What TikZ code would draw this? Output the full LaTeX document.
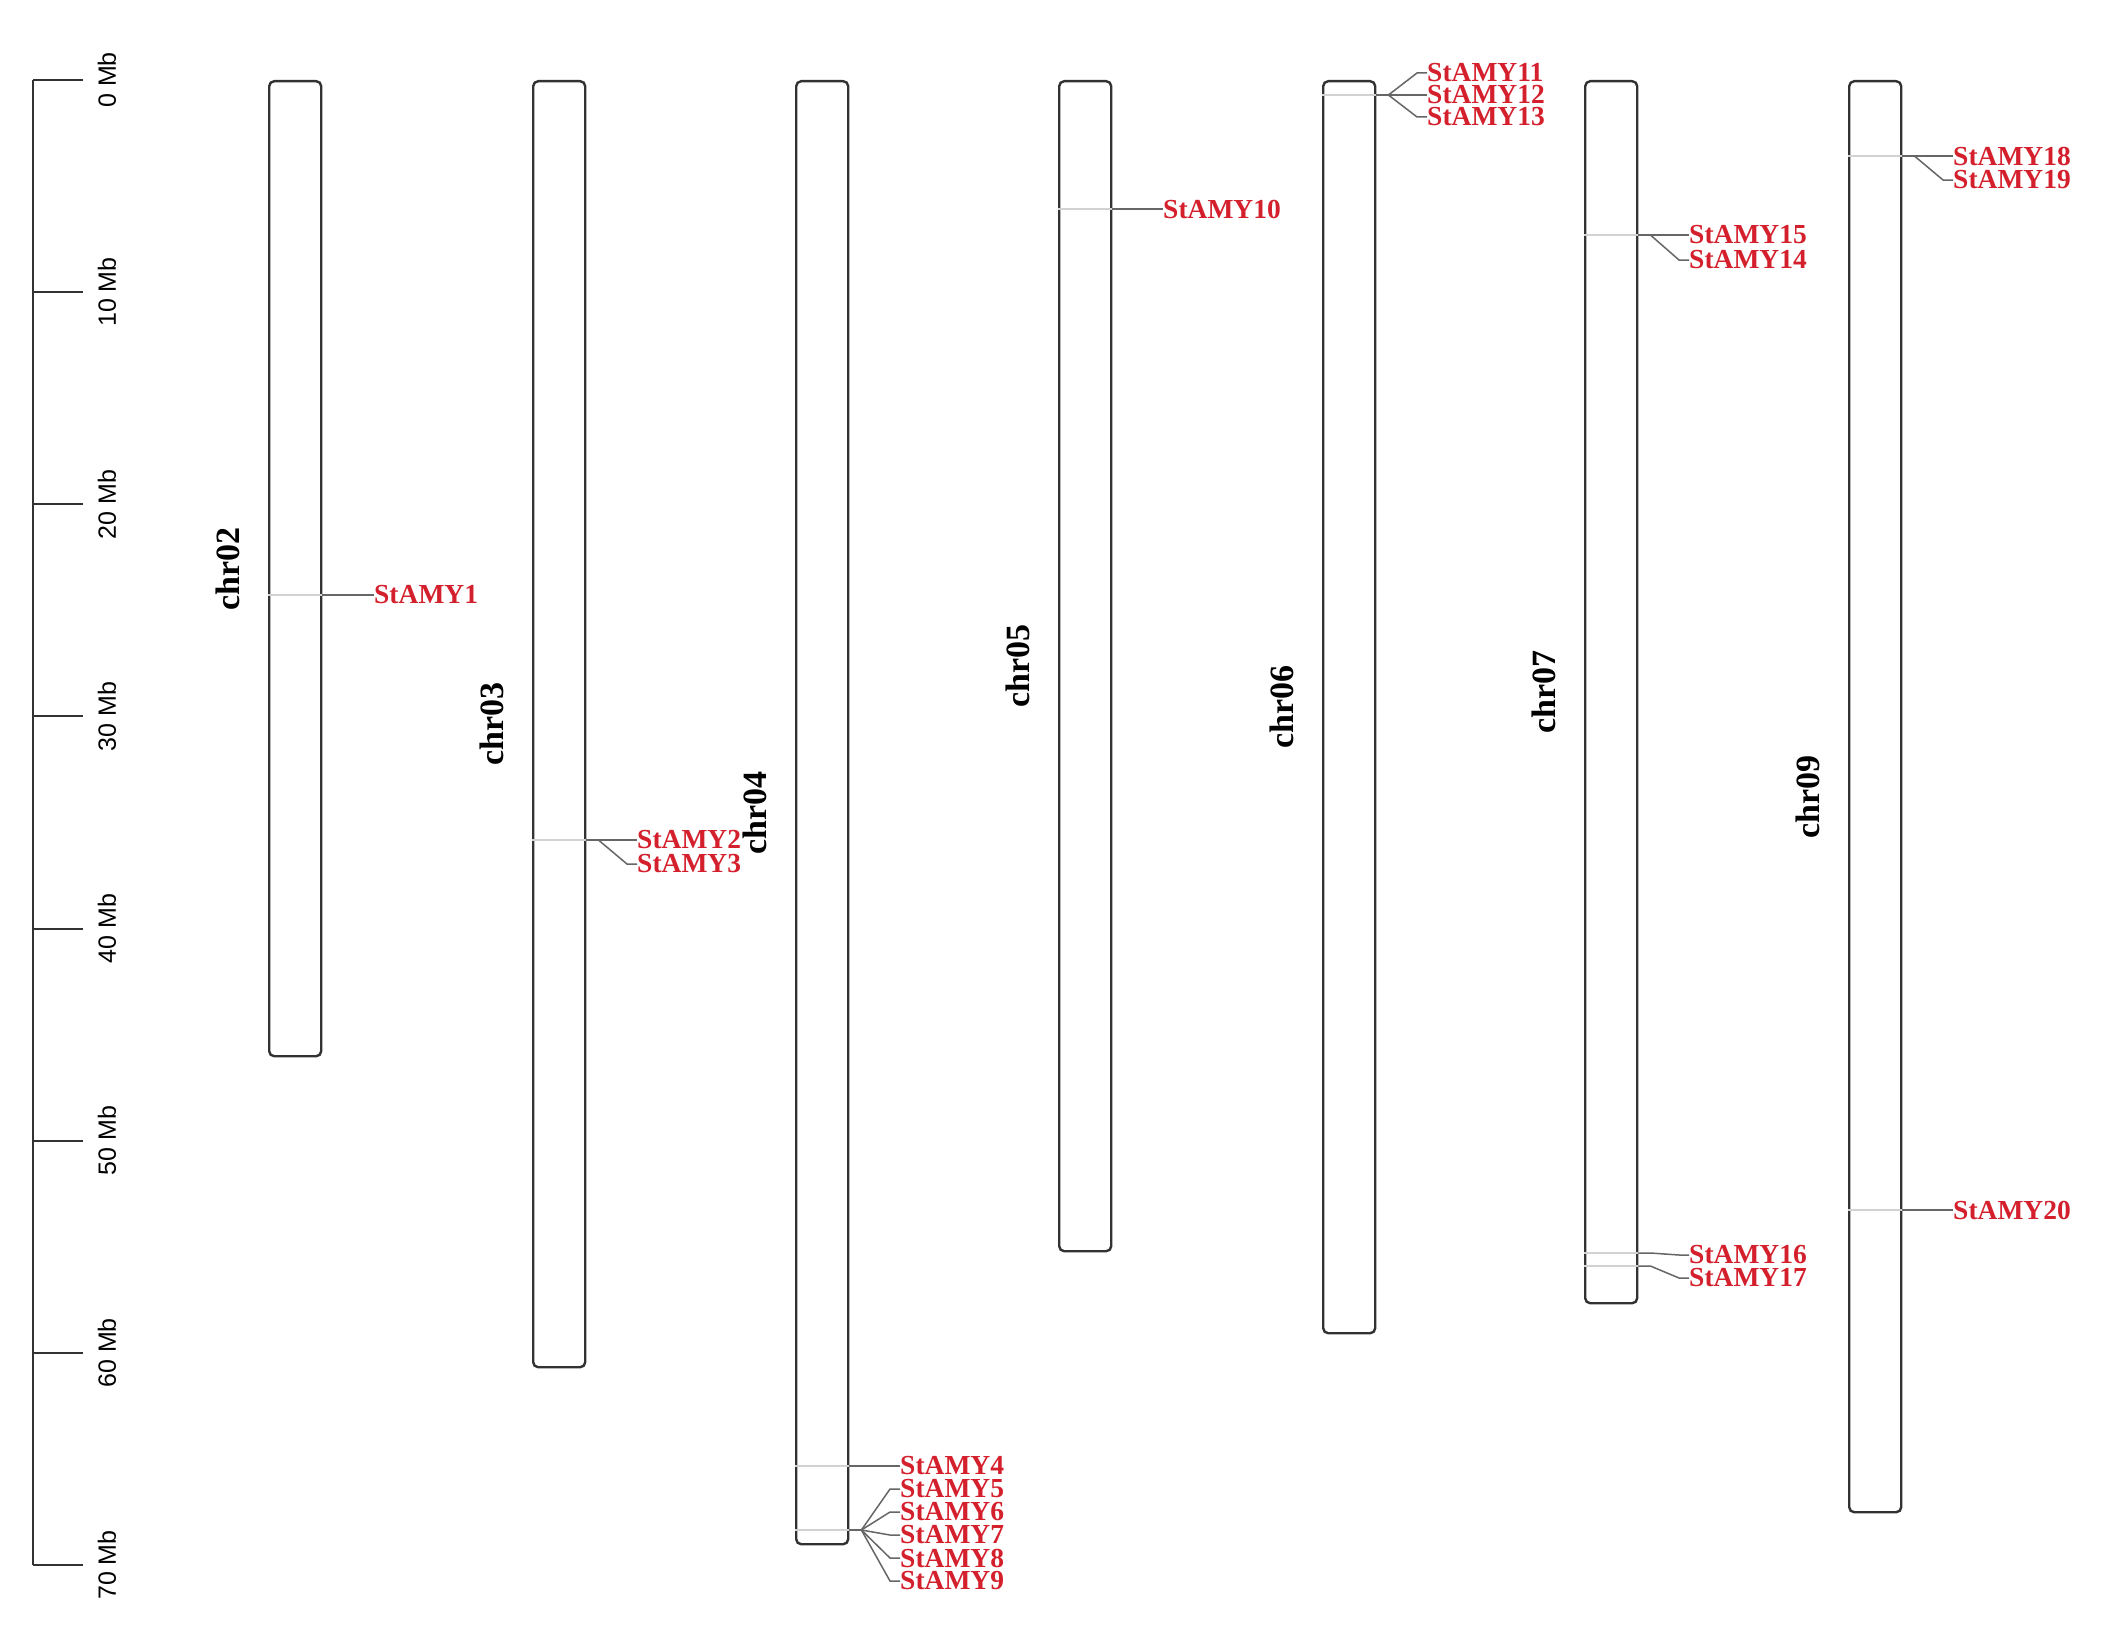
\documentclass[tikz,border=0pt]{standalone}
\usepackage{fontspec}
\setmainfont{Liberation Serif}
\newfontfamily\axisfont{Liberation Sans}
\definecolor{genered}{RGB}{212,32,44}
\definecolor{outline}{RGB}{50,50,50}
\begin{document}
\begin{tikzpicture}[x=1pt,y=-1pt,
  chrom/.style={draw=outline, line width=2.4pt, rounded corners=5pt, minimum width=52pt, inner sep=0pt, anchor=north west},
  chrlab/.style={font=\fontsize{34}{34}\selectfont\bfseries, rotate=90, inner sep=0pt},
  gene/.style={font=\fontsize{27.5}{27.5}\selectfont\bfseries, text=genered, anchor=west, inner sep=0pt},
  conn/.style={draw=gray!80!black, line width=1.5pt},
  band/.style={draw=gray!35, line width=1.2pt},
  axisline/.style={draw=outline, line width=2pt},
  ticklab/.style={font=\axisfont\fontsize{25}{25}\selectfont, rotate=90, inner sep=0pt}]
\useasboundingbox (0,0) rectangle (2116,1643);

% scale axis
\draw[axisline] (33,80) -- (33,1565);
\foreach \k/\t in {0/0,1/10,2/20,3/30,4/40,5/50,6/60,7/70}{
  \pgfmathsetmacro{\yy}{80+212.14*\k}
  \draw[axisline] (33,\yy) -- (83,\yy);
  \node[ticklab] (t\k) at (107,\yy) {\t\ Mb};
}

% chromosomes
\node[chrom, minimum height=975pt]  (c02) at (268,80) {};
\node[chrom, minimum height=1286pt] (c03) at (532,80) {};
\node[chrom, minimum height=1463pt] (c04) at (795,80) {};
\node[chrom, minimum height=1170pt] (c05) at (1058,80) {};
\node[chrom, minimum height=1252pt] (c06) at (1322,80) {};
\node[chrom, minimum height=1222pt] (c07) at (1584,80) {};
\node[chrom, minimum height=1431pt] (c09) at (1848,80) {};

% chromosome labels
\node[chrlab] (l02) at ([xshift=-40pt]c02.west) {chr02};
\node[chrlab] (l03) at ([xshift=-40pt]c03.west) {chr03};
\node[chrlab] (l04) at ([xshift=-40pt]c04.west) {chr04};
\node[chrlab] (l05) at ([xshift=-40pt]c05.west) {chr05};
\node[chrlab] (l06) at ([xshift=-40pt]c06.west) {chr06};
\node[chrlab] (l07) at ([xshift=-40pt]c07.west) {chr07};
\node[chrlab] (l09) at ([xshift=-40pt]c09.west) {chr09};

% gene positions on chromosomes (right edge) and bands
\foreach \c/\n/\y in {c02/p1/595, c03/p2/840, c04/p4/1466, c04/p5/1530, c05/p10/209, c06/p11/95,
                      c07/p15/235, c07/p16/1253, c07/p17/1266, c09/p18/156, c09/p20/1210}{
  \coordinate (\n) at (\c.east |- 0,\y);
  \coordinate (\n w) at (\c.west |- 0,\y);
  \draw[band] (\n w) -- (\n);
}

% gene labels
\node[gene] (a1)  at (374,595)  {StAMY1};
\node[gene] (a2)  at (637,840)  {StAMY2};
\node[gene] (a3)  at (637,864)  {StAMY3};
\node[gene] (a4)  at (900,1466) {StAMY4};
\node[gene] (a5)  at (900,1489) {StAMY5};
\node[gene] (a6)  at (900,1512) {StAMY6};
\node[gene] (a7)  at (900,1535) {StAMY7};
\node[gene] (a8)  at (900,1558) {StAMY8};
\node[gene] (a9)  at (900,1581) {StAMY9};
\node[gene] (a10) at (1163,209) {StAMY10};
\node[gene] (a11) at (1427,73)  {StAMY11};
\node[gene] (a12) at (1427,95)  {StAMY12};
\node[gene] (a13) at (1427,117) {StAMY13};
\node[gene] (a15) at (1689,235) {StAMY15};
\node[gene] (a14) at (1689,260) {StAMY14};
\node[gene] (a16) at (1689,1255) {StAMY16};
\node[gene] (a17) at (1689,1278) {StAMY17};
\node[gene] (a18) at (1953,156) {StAMY18};
\node[gene] (a19) at (1953,180) {StAMY19};
\node[gene] (a20) at (1953,1210) {StAMY20};

% connectors
\foreach \p/\a in {p1/a1, p2/a2, p2/a3, p4/a4, p5/a5, p5/a6, p5/a7, p5/a8, p5/a9, p10/a10,
                   p11/a11, p11/a12, p11/a13, p15/a15, p15/a14, p16/a16, p17/a17,
                   p18/a18, p18/a19, p20/a20}{
  \draw[conn] (\p) -- ++(12,0) -- ([xshift=-10pt]\a.west) -- (\a.west);
}
\end{tikzpicture}
\end{document}
